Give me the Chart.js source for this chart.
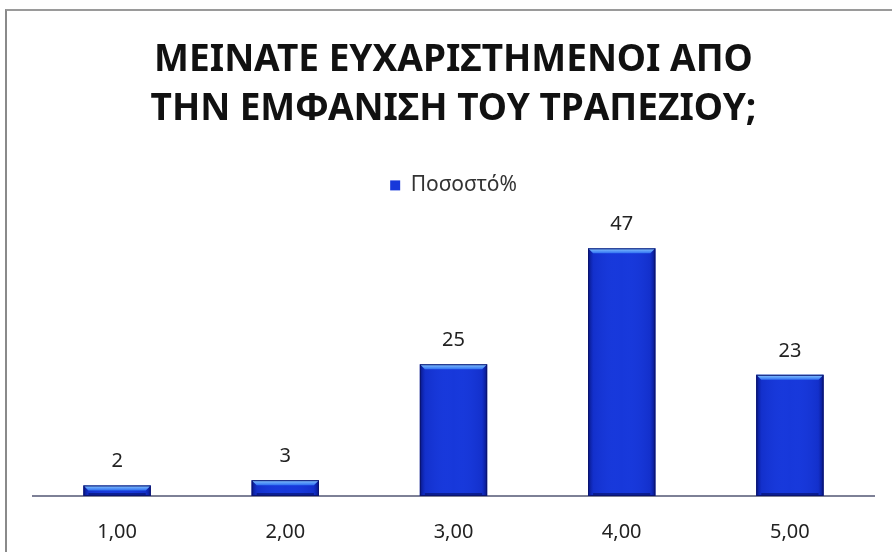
<!DOCTYPE html>
<html>
<head>
<meta charset="utf-8">
<script src="https://cdn.jsdelivr.net/npm/chart.js@4/dist/chart.umd.min.js"></script>
<style>
  html, body { margin: 0; padding: 0; background: #ffffff; }
  #wrap { position: relative; width: 892px; height: 552px; }
  #frame { position: absolute; left: 5px; top: 9px; right: 0; bottom: 0;
           border-left: 2px solid #8a8a8a; border-top: 2px solid #9a9a9a; }
  canvas { position: absolute; left: 0; top: 0; }
</style>
</head>
<body>
<div id="wrap">
  <div id="frame"></div>
  <canvas id="c" width="892" height="552"></canvas>
</div>
<script>
// Survey answers: satisfaction with the look of the table (scale 1–5)
const titleLines = ['ΜΕΙΝΑΤΕ ΕΥΧΑΡΙΣΤΗΜΕΝΟΙ ΑΠΟ', 'ΤΗΝ ΕΜΦΑΝΙΣΗ ΤΟΥ ΤΡΑΠΕΖΙΟΥ;'];
const categories = ['1,00', '2,00', '3,00', '4,00', '5,00'];
const seriesName = 'Ποσοστό%';
const percentages = [2, 3, 25, 47, 23];

const FONT = "'Noto Sans', 'DejaVu Sans', sans-serif";

// Leave extra room under the legend before the plot starts
const legendGap = {
  id: 'legendGap',
  beforeLayout(chart) {
    const lg = chart.legend;
    if (lg && !lg._gapPatched) {
      const fit = lg.fit;
      lg.fit = function () { fit.call(this); this.height += 24; };
      lg._gapPatched = true;
    }
  }
};

// Bevelled look for the bars: dark side edges and a bright top rim
const bevelPlugin = {
  id: 'bevel',
  afterDatasetsDraw(chart) {
    const ctx = chart.ctx;
    chart.getDatasetMeta(0).data.forEach(bar => {
      const p = bar.getProps(['x', 'y', 'base', 'width'], true);
      const l = p.x - p.width / 2, r = p.x + p.width / 2;
      const t = p.y, b = p.base;
      const e = Math.min(5, (b - t) / 2);
      ctx.save();
      const g = ctx.createLinearGradient(l, 0, r, 0);
      g.addColorStop(0, 'rgba(5,15,110,0.85)');
      g.addColorStop(0.08, 'rgba(10,30,170,0.3)');
      g.addColorStop(0.5, 'rgba(40,80,255,0.0)');
      g.addColorStop(0.92, 'rgba(10,30,170,0.3)');
      g.addColorStop(1, 'rgba(5,15,110,0.85)');
      ctx.fillStyle = g;
      ctx.fillRect(l, t, r - l, b - t);
      ctx.beginPath();
      ctx.moveTo(l, t);
      ctx.lineTo(r, t);
      ctx.lineTo(r - e, t + e);
      ctx.lineTo(l + e, t + e);
      ctx.closePath();
      const tg = ctx.createLinearGradient(0, t, 0, t + e);
      tg.addColorStop(0, '#8ccaff');
      tg.addColorStop(1, '#2f70f2');
      ctx.fillStyle = tg;
      ctx.fill();
      ctx.fillStyle = 'rgba(5,15,100,0.6)';
      ctx.fillRect(l + e, b - Math.min(3, e), r - l - 2 * e, Math.min(3, e));
      ctx.strokeStyle = '#0a1470';
      ctx.lineWidth = 1;
      ctx.strokeRect(l + 0.5, t + 0.5, r - l - 1, b - t - 1);
      ctx.restore();
    });
  }
};

// Value written above each bar
const valueLabels = {
  id: 'valueLabels',
  afterDatasetsDraw(chart) {
    const ctx = chart.ctx;
    const ds = chart.data.datasets[0];
    ctx.save();
    ctx.font = `20px ${FONT}`;
    ctx.fillStyle = '#222222';
    ctx.textAlign = 'center';
    ctx.textBaseline = 'middle';
    chart.getDatasetMeta(0).data.forEach((bar, i) => {
      ctx.fillText(String(ds.data[i]), bar.x, bar.y - 24);
    });
    ctx.restore();
  }
};

new Chart(document.getElementById('c'), {
  type: 'bar',
  data: {
    labels: categories,
    datasets: [{
      label: seriesName,
      data: percentages,
      backgroundColor: '#1738da',
      borderWidth: 0,
      barPercentage: 0.4,
      categoryPercentage: 1.0
    }]
  },
  options: {
    responsive: false,
    animation: false,
    events: [],
    layout: { padding: { left: 33, right: 18, top: 0, bottom: 0 } },
    plugins: {
      title: {
        display: true,
        text: titleLines,
        color: '#111111',
        font: { family: FONT, size: 37, weight: 'bold', lineHeight: 1.35 },
        padding: { top: 35, bottom: 30 }
      },
      legend: {
        display: true,
        position: 'top',
        labels: {
          color: '#333333',
          font: { family: FONT, size: 21 },
          boxWidth: 10,
          boxHeight: 10,
          padding: 10
        }
      },
      tooltip: { enabled: false }
    },
    scales: {
      x: {
        grid: { display: false },
        border: { display: true, color: '#7d8096', width: 2 },
        ticks: { color: '#222222', font: { family: FONT, size: 20 }, padding: 16 },
        afterFit(scale) { scale.height = 56; }
      },
      y: {
        display: false,
        min: 0,
        max: 50.5
      }
    }
  },
  plugins: [legendGap, bevelPlugin, valueLabels]
});
</script>
</body>
</html>
